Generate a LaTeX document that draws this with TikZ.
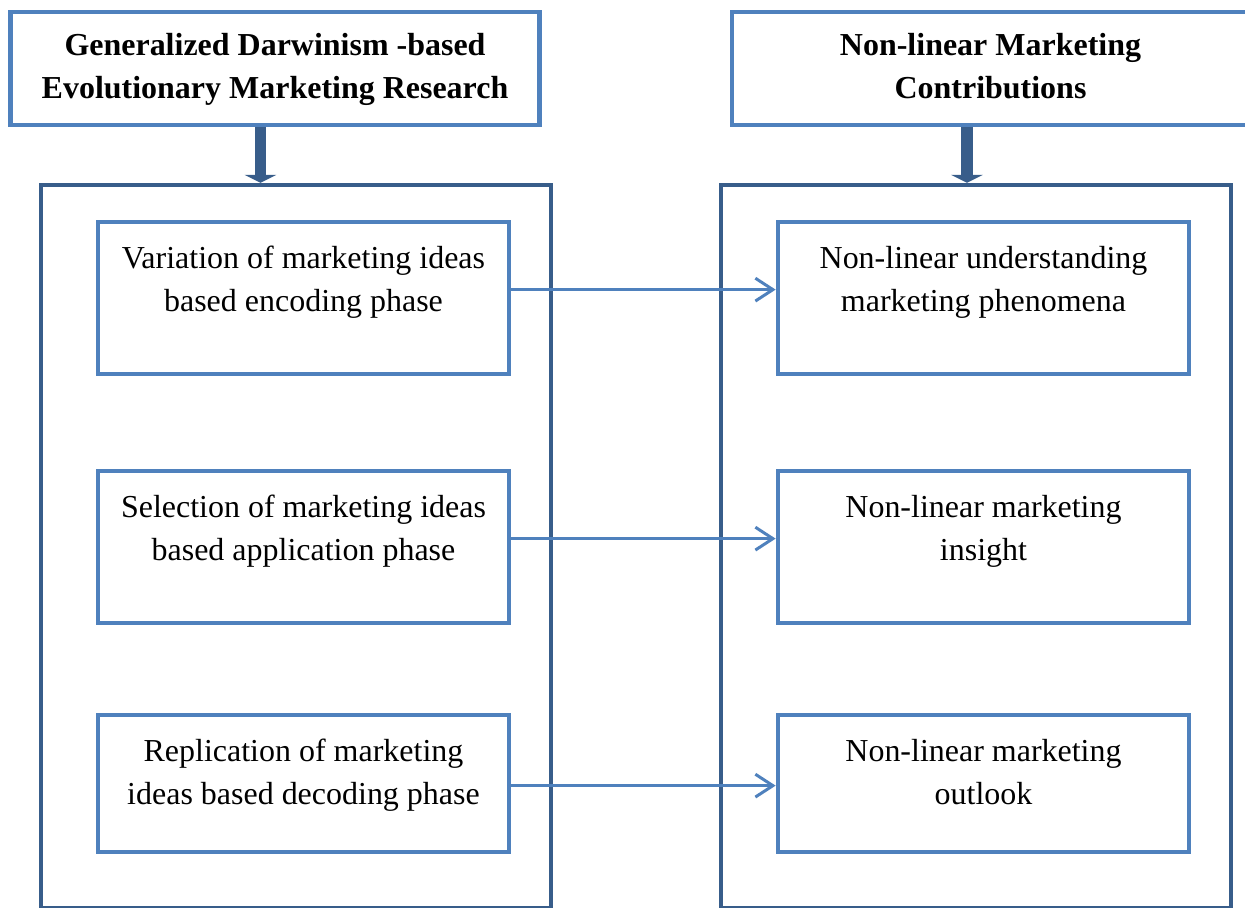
\documentclass[tikz,border=0pt]{standalone}
\usepackage{fontspec}
\setmainfont{Liberation Serif}
\usetikzlibrary{arrows.meta}
\definecolor{boxblue}{HTML}{4F81BD}
\definecolor{frameblue}{HTML}{385D8A}
\newcommand{\boxtext}[2]{\parbox[c][#1][t]{8.22cm}{\centering\vspace*{9.5pt}\strut #2}}
\tikzset{
  txt/.style={font=\fontsize{18.2}{24.5}\selectfont},
  head/.style={draw=boxblue, line width=2.4pt, font=\fontsize{18.2}{24.5}\selectfont\bfseries, align=center, inner sep=0pt, minimum height=2.26cm},
  frame/.style={draw=frameblue, line width=2.6pt, inner sep=0pt, minimum width=10.2cm, minimum height=14.46cm},
  item/.style={draw=boxblue, line width=2.7pt, inner sep=0pt, txt},
  link/.style={-{Straight Barb[length=10pt,width=13pt]}, draw=boxblue, line width=1.7pt},
  push/.style={-{Triangle[length=4.5pt,width=18pt]}, draw=frameblue, line width=6.3pt}
}
\begin{document}
\begin{tikzpicture}[x=0.02cm,y=-0.02cm]
\useasboundingbox (0,0) rectangle (1245,907);
\clip (0,0) rectangle (1245,907);
% headings
\node[head, minimum width=10.58cm] (gd) at (275,68.5) {\strut Generalized Darwinism -based\\\strut Evolutionary Marketing Research};
\node[head, minimum width=10.34cm] (nm) at (990.5,68.5) {\strut Non-linear Marketing\\\strut Contributions};
% the two columns
\node[frame] (ev) at (296,546.5) {};
\node[frame] (nc) at (976,546.5) {};
% left column
\node[item] (var) at (303.5,298) {\boxtext{3.04cm}{Variation of marketing ideas\\based encoding phase}};
\node[item] (sel) at (303.5,547) {\boxtext{3.04cm}{Selection of marketing ideas\\based application phase}};
\node[item] (rep) at (303.5,783.5) {\boxtext{2.74cm}{Replication of marketing\\ideas based decoding phase}};
% right column
\node[item] (und) at (983.5,298) {\boxtext{3.04cm}{Non-linear understanding\\marketing phenomena}};
\node[item] (ins) at (983.5,547) {\boxtext{3.04cm}{Non-linear marketing\\insight}};
\node[item] (out) at (983.5,783.5) {\boxtext{2.74cm}{Non-linear marketing\\outlook}};
% heading arrows
\coordinate (gdfoot) at ([xshift=-0.29cm]gd.south);
\coordinate (nmfoot) at ([xshift=-0.47cm]nm.south);
\draw[push] (gdfoot) -- (gdfoot |- ev.north);
\draw[push] (nmfoot) -- (nmfoot |- nc.north);
% links
\draw[link] ([yshift=-1.40cm]var.north east) -- ([yshift=-1.40cm]und.north west);
\draw[link] ([yshift=-1.40cm]sel.north east) -- ([yshift=-1.40cm]ins.north west);
\draw[link] ([yshift=-1.46cm]rep.north east) -- ([yshift=-1.46cm]out.north west);
\end{tikzpicture}
\end{document}
